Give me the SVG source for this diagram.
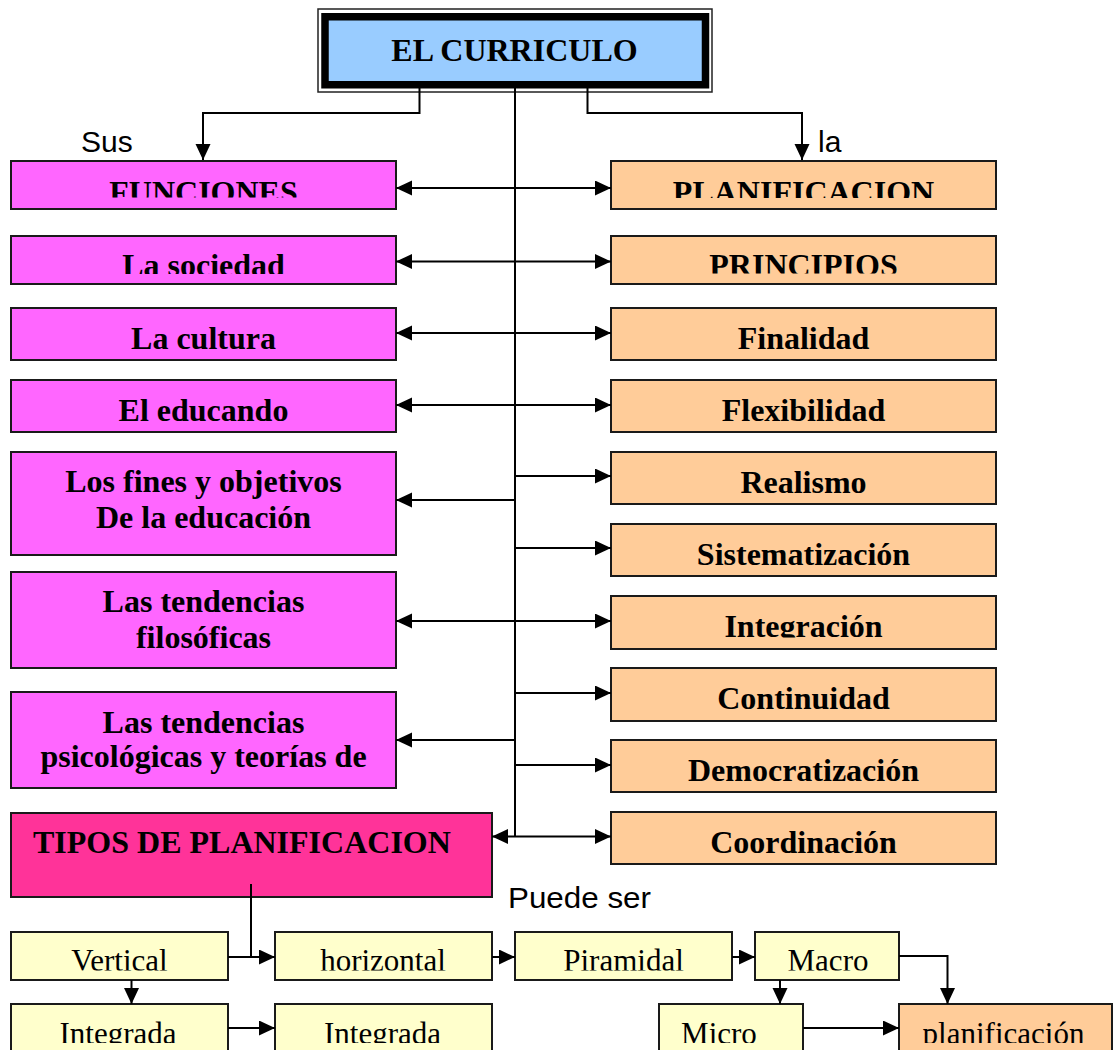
<svg xmlns="http://www.w3.org/2000/svg" width="1113" height="1050" viewBox="0 0 1113 1050">
<style>
  .box { stroke: #1a1a1a; stroke-width: 2; }
  .mag { fill: #FF66FF; }
  .pch { fill: #FFCC99; }
  .yel { fill: #FFFFCC; }
  .pink { fill: #FF3399; }
  .b { font-family: "Liberation Serif", "Times New Roman", serif; font-weight: bold; font-size: 32px; fill: #000; text-anchor: middle; }
  .r { font-family: "Liberation Serif", "Times New Roman", serif; font-size: 31px; fill: #000; text-anchor: middle; }
  .s { font-family: "Liberation Sans", Arial, sans-serif; font-size: 30px; fill: #000; }
  .c { fill: none; stroke: #000; stroke-width: 2; }
</style>
<defs>
  <marker id="ah" markerUnits="userSpaceOnUse" markerWidth="17" markerHeight="16" refX="16" refY="7.5" orient="auto-start-reverse">
    <path d="M0,0 L16,7.5 L0,15 z" fill="#000"/>
  </marker>
  <clipPath id="cFunc"><rect x="11" y="161" width="385" height="36.5"/></clipPath>
  <clipPath id="cSoc"><rect x="11" y="236" width="385" height="38"/></clipPath>
  <clipPath id="cPlan"><rect x="611" y="161" width="385" height="37"/></clipPath>
  <clipPath id="cPrin"><rect x="611" y="236" width="385" height="37.5"/></clipPath>
  <clipPath id="cInteg"><rect x="611" y="596" width="385" height="41.5"/></clipPath>
  <clipPath id="cRow1"><rect x="0" y="932" width="1113" height="38.5"/></clipPath>
  <clipPath id="cRow2"><rect x="0" y="1004" width="1113" height="39"/></clipPath>
</defs>

<g id="n-curriculo">
  <rect x="318" y="9" width="394" height="83" fill="#fff" stroke="#222" stroke-width="1.5"/>
  <rect x="325" y="16.75" width="380.5" height="68" fill="#99CCFF" stroke="#000" stroke-width="7.5"/>
  <text class="b" x="514.5" y="61">EL CURRICULO</text>
</g>

<text class="s" x="81" y="152">Sus</text>
<text class="s" x="818" y="152">la</text>
<text class="s" x="508" y="907.5" textLength="143" lengthAdjust="spacingAndGlyphs">Puede ser</text>

<g id="n-funciones"><rect class="box mag" x="11" y="161" width="385" height="48"/><text class="b" x="203.5" y="203" clip-path="url(#cFunc)">FUNCIONES</text></g>
<g id="n-sociedad"><rect class="box mag" x="11" y="236" width="385" height="48"/><text class="b" x="203.5" y="276" clip-path="url(#cSoc)">La sociedad</text></g>
<g id="n-cultura"><rect class="box mag" x="11" y="308" width="385" height="52"/><text class="b" x="203.5" y="348.5">La cultura</text></g>
<g id="n-educando"><rect class="box mag" x="11" y="380" width="385" height="52"/><text class="b" x="203.5" y="420.5">El educando</text></g>
<g id="n-fines"><rect class="box mag" x="11" y="452" width="385" height="103"/><text class="b" x="203.5" y="492">Los fines y objetivos</text><text class="b" x="203.5" y="528">De la educación</text></g>
<g id="n-filosoficas"><rect class="box mag" x="11" y="572" width="385" height="96"/><text class="b" x="203.5" y="612">Las tendencias</text><text class="b" x="203.5" y="648">filosóficas</text></g>
<g id="n-psicologicas"><rect class="box mag" x="11" y="692" width="385" height="96"/><text class="b" x="203.5" y="733">Las tendencias</text><text class="b" x="203.5" y="767">psicológicas y teorías de</text></g>
<g id="n-tipos"><rect class="box pink" x="11" y="813" width="481" height="84"/><text class="b" x="33" y="853" style="text-anchor:start">TIPOS DE PLANIFICACION</text></g>

<g id="n-planificacion"><rect class="box pch" x="611" y="161" width="385" height="48"/><text class="b" x="803.5" y="203" clip-path="url(#cPlan)">PLANIFICACION</text></g>
<g id="n-principios"><rect class="box pch" x="611" y="236" width="385" height="48"/><text class="b" x="803.5" y="276" clip-path="url(#cPrin)">PRINCIPIOS</text></g>
<g id="n-finalidad"><rect class="box pch" x="611" y="308" width="385" height="52"/><text class="b" x="803.5" y="348.5">Finalidad</text></g>
<g id="n-flexibilidad"><rect class="box pch" x="611" y="380" width="385" height="52"/><text class="b" x="803.5" y="420.5">Flexibilidad</text></g>
<g id="n-realismo"><rect class="box pch" x="611" y="452" width="385" height="52"/><text class="b" x="803.5" y="492.5">Realismo</text></g>
<g id="n-sistematizacion"><rect class="box pch" x="611" y="524" width="385" height="52"/><text class="b" x="803.5" y="564.5">Sistematización</text></g>
<g id="n-integracion"><rect class="box pch" x="611" y="596" width="385" height="53"/><text class="b" x="803.5" y="636.5" clip-path="url(#cInteg)">Integración</text></g>
<g id="n-continuidad"><rect class="box pch" x="611" y="668" width="385" height="53"/><text class="b" x="803.5" y="708.5">Continuidad</text></g>
<g id="n-democratizacion"><rect class="box pch" x="611" y="740" width="385" height="52"/><text class="b" x="803.5" y="780.5">Democratización</text></g>
<g id="n-coordinacion"><rect class="box pch" x="611" y="812" width="385" height="52"/><text class="b" x="803.5" y="852.5">Coordinación</text></g>

<g id="n-vertical"><rect class="box yel" x="11" y="932" width="217" height="48"/><text class="r" x="119.5" y="971" clip-path="url(#cRow1)">Vertical</text></g>
<g id="n-horizontal"><rect class="box yel" x="275" y="932" width="217" height="48"/><text class="r" x="383" y="971" clip-path="url(#cRow1)">horizontal</text></g>
<g id="n-piramidal"><rect class="box yel" x="515" y="932" width="217" height="48"/><text class="r" x="623.5" y="971" clip-path="url(#cRow1)">Piramidal</text></g>
<g id="n-macro"><rect class="box yel" x="755" y="932" width="144" height="48"/><text class="r" x="828" y="971" clip-path="url(#cRow1)">Macro</text></g>
<g id="n-integrada1"><rect class="box yel" x="11" y="1004" width="217" height="60"/><text class="r" x="118" y="1043.5" clip-path="url(#cRow2)">Integrada</text></g>
<g id="n-integrada2"><rect class="box yel" x="275" y="1004" width="217" height="60"/><text class="r" x="382.5" y="1043.5" clip-path="url(#cRow2)">Integrada</text></g>
<g id="n-micro"><rect class="box yel" x="659" y="1004" width="144" height="60"/><text class="r" x="719" y="1043.5" clip-path="url(#cRow2)">Micro</text></g>
<g id="n-planif2"><rect class="box pch" x="899" y="1004" width="213" height="60"/><text class="r" x="1003.5" y="1043.5" clip-path="url(#cRow2)">planificación</text></g>

<g id="connectors">
  <path class="c" d="M419.5,88 V113 H203 V160" marker-end="url(#ah)"/>
  <path class="c" d="M587.5,88 V113 H802 V160" marker-end="url(#ah)"/>
  <path class="c" d="M515,88 V837"/>
  <path class="c" d="M396,188 H611" marker-start="url(#ah)" marker-end="url(#ah)"/>
  <path class="c" d="M396,261.5 H611" marker-start="url(#ah)" marker-end="url(#ah)"/>
  <path class="c" d="M396,333 H611" marker-start="url(#ah)" marker-end="url(#ah)"/>
  <path class="c" d="M396,405 H611" marker-start="url(#ah)" marker-end="url(#ah)"/>
  <path class="c" d="M515,476 H611" marker-end="url(#ah)"/>
  <path class="c" d="M515,500 H396" marker-end="url(#ah)"/>
  <path class="c" d="M515,548 H611" marker-end="url(#ah)"/>
  <path class="c" d="M396,621 H611" marker-start="url(#ah)" marker-end="url(#ah)"/>
  <path class="c" d="M515,693 H611" marker-end="url(#ah)"/>
  <path class="c" d="M515,740 H396" marker-end="url(#ah)"/>
  <path class="c" d="M515,765 H611" marker-end="url(#ah)"/>
  <path class="c" d="M492,836.5 H611" marker-start="url(#ah)" marker-end="url(#ah)"/>
  <path class="c" d="M251,884 V957"/>
  <path class="c" d="M228,957 H275" marker-end="url(#ah)"/>
  <path class="c" d="M131.5,980 V1004" marker-end="url(#ah)"/>
  <path class="c" d="M228,1028 H275" marker-end="url(#ah)"/>
  <path class="c" d="M492,957 H515" marker-end="url(#ah)"/>
  <path class="c" d="M732,957 H755" marker-end="url(#ah)"/>
  <path class="c" d="M780,980 V1004" marker-end="url(#ah)"/>
  <path class="c" d="M899,956 H947.5 V1004" marker-end="url(#ah)"/>
  <path class="c" d="M803,1028 H899" marker-end="url(#ah)"/>
</g>
</svg>
